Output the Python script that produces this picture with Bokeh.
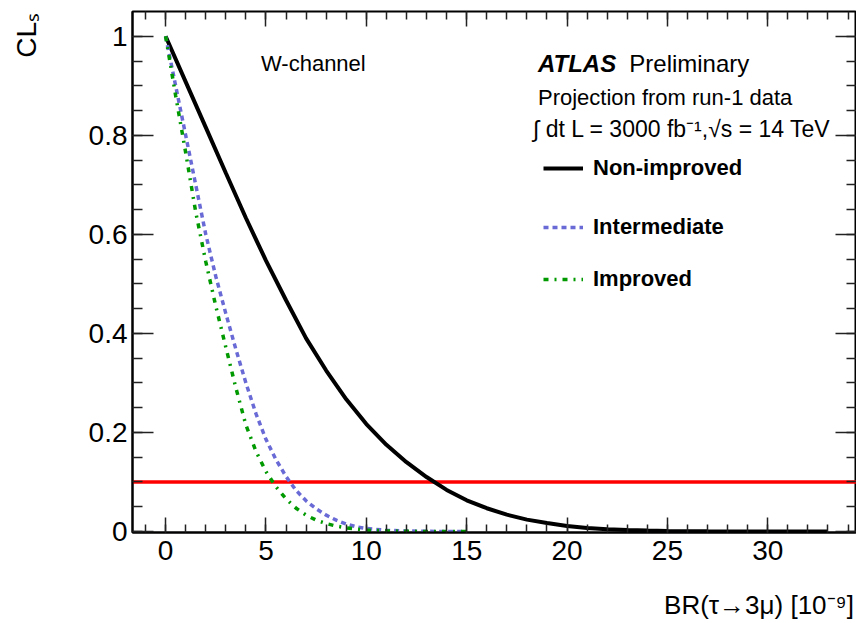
import math
from bokeh.plotting import figure
from bokeh.models import (Range1d, FixedTicker, LinearAxis, Label, Span, Legend,
                          LegendItem, CustomJSTickFormatter, Title)
from bokeh.embed import file_html
from bokeh.resources import INLINE

# ---------------- data ----------------
BLACK_X = [0, 1, 2, 3, 4, 5, 6, 7, 8, 9, 10, 11, 12, 13, 14, 15, 16, 17, 18, 19, 20,
           21, 22, 23, 24, 25, 26, 27, 28, 29, 30, 31, 32, 33]
BLACK_Y = [1.000, 0.908, 0.816, 0.724, 0.633, 0.547, 0.467, 0.390, 0.325, 0.267, 0.217,
           0.175, 0.140, 0.110, 0.084, 0.063, 0.047, 0.034, 0.024, 0.017, 0.011,
           0.0072, 0.0046, 0.0029, 0.0018, 0.0011, 0.0007, 0.0004, 0.00025, 0.00015,
           0.0001, 0.00006, 0.00003, 0.0]

BLUE_X = [0, 0.5, 1, 1.5, 2, 2.5, 3, 3.5, 4, 4.5, 5, 5.5, 6, 6.5, 7, 7.5, 8, 8.5, 9, 9.5,
          10, 11, 12, 13, 14, 15]
BLUE_Y = [1.0, 0.9, 0.8, 0.7, 0.6, 0.515, 0.44, 0.368, 0.3, 0.238, 0.186, 0.145, 0.111,
          0.083, 0.062, 0.046, 0.033, 0.023, 0.015, 0.0095, 0.006, 0.0025, 0.001, 0.0004,
          0.0001, 0.0]

GREEN_X = [0, 0.5, 1, 1.5, 2, 2.5, 3, 3.5, 4, 4.5, 5, 5.5, 6, 6.5, 7, 7.5, 8, 8.5, 9, 9.5,
           10, 11, 12, 13, 14, 15]
GREEN_Y = [1.0, 0.88, 0.765, 0.645, 0.545, 0.455, 0.372, 0.29, 0.215, 0.162, 0.121, 0.09,
           0.066, 0.047, 0.033, 0.023, 0.016, 0.011, 0.0075, 0.005, 0.003, 0.0012, 0.0004,
           0.0001, 0.0, 0.0]

THRESHOLD = 0.1

SERIES_NAMES = ["Non-improved", "Intermediate", "Improved"]
X_TICKS = [0, 5, 10, 15, 20, 25, 30]
Y_TICKS = [0, 0.2, 0.4, 0.6, 0.8, 1.0]
X_TITLE = "BR(\u03c4\u21923\u03bc) [10\u207b\u2079]"
Y_TITLE = "CL\u209b"

# ---------------- layout ----------------
X0, X1 = -1.65, 34.42
Y0, Y1 = -0.002, 1.05
FL, FR, FT, FB = 132, 856, 11, 532
FONT = "Liberation Sans"
# the axis label is centred on the axis end, so a blank tail about as wide as the
# visible title puts the visible text's end on the axis end (right / top aligned)
X_PAD = "\u2003" * 7 + "\u2002"
Y_PAD = "\u2003\u2002\u2009"


def dx(px):
    return X0 + (px - FL) * 20.0 / 400.0


def dy(py):
    return Y1 - (py - FT) * (Y1 - Y0) / (FB - FT)


p = figure(width=856, height=623, output_backend="svg", toolbar_location=None,
           x_range=Range1d(X0, X1), y_range=Range1d(Y0, Y1),
           x_axis_type=None, y_axis_type=None,
           min_border_left=FL, min_border_right=0, min_border_top=FT,
           min_border_bottom=623 - FB)
p.outline_line_color = "black"
p.outline_line_width = 2
p.background_fill_color = "white"
p.border_fill_color = "white"

x_minor = [float(v) for v in range(-1, 35)]
y_minor = [round(0.05 * i, 2) for i in range(0, 21)]


def make_axis(ticks, minor, major_in, minor_in, show_labels):
    ax = LinearAxis(ticker=FixedTicker(ticks=ticks, minor_ticks=minor),
                    axis_line_color="black", axis_line_width=2,
                    major_tick_in=major_in, major_tick_out=0,
                    minor_tick_in=minor_in, minor_tick_out=0,
                    major_tick_line_width=1.5, minor_tick_line_width=1.5,
                    major_tick_line_color="#222222", minor_tick_line_color="#222222",
                    major_label_text_font=FONT,
                    major_label_text_color="black")
    if show_labels:
        ax.major_label_text_font_size = "28px"
    else:
        ax.formatter = CustomJSTickFormatter(code="return ''")
        ax.major_label_text_font_size = "0px"
        ax.major_label_standoff = 0
        ax.axis_line_color = None
    return ax


xb = make_axis(X_TICKS, x_minor, 15, 8, True)
xb.major_label_standoff = 8
yl = make_axis(Y_TICKS, y_minor, 21, 10, True)
yl.major_label_standoff = 5
yl.major_label_overrides = {0: "0", 1: "1"}
xt = make_axis(X_TICKS, x_minor, 15, 8, False)
yr = make_axis(Y_TICKS, y_minor, 21, 10, False)

HAS_ALIGN = "axis_label_align" in LinearAxis.properties()
if HAS_ALIGN:
    xb.axis_label = X_TITLE + X_PAD
    xb.axis_label_align = "end"
    xb.axis_label_standoff = 27
    xb.axis_label_text_font = FONT
    xb.axis_label_text_font_size = "26px"
    xb.axis_label_text_font_style = "normal"
    xb.axis_label_text_color = "black"
    yl.axis_label = Y_TITLE + Y_PAD
    yl.axis_label_align = "end"
    yl.axis_label_standoff = 44
    yl.axis_label_text_font = FONT
    yl.axis_label_text_font_size = "28px"
    yl.axis_label_text_font_style = "normal"
    yl.axis_label_text_color = "black"

p.add_layout(xb, "below")
p.add_layout(yl, "left")
p.add_layout(xt, "above")
p.add_layout(yr, "right")

if not HAS_ALIGN:
    t_x = Title(text=X_TITLE, align="right", text_font=FONT, text_font_size="26px",
                text_font_style="normal", text_color="black", offset=4, standoff=26)
    t_y = Title(text=Y_TITLE, align="right", text_font=FONT, text_font_size="28px",
                text_font_style="normal", text_color="black", offset=0, standoff=50)
    p.add_layout(t_x, "below")
    p.add_layout(t_y, "left")

# threshold line
p.add_layout(Span(location=THRESHOLD, dimension="width", line_color="#ff0000",
                  line_width=3.5, level="underlay"))

r_black = p.line(BLACK_X, BLACK_Y, line_color="black", line_width=4)
r_blue = p.line(BLUE_X, BLUE_Y, line_color="#6a6ad6", line_width=3.5, line_dash="5 4")
r_green = p.line(GREEN_X, GREEN_Y, line_color="#009900", line_width=3.5,
                 line_dash="5 6 2 6")

for name, rend, py in zip(SERIES_NAMES, [r_black, r_blue, r_green], [167, 226, 278]):
    leg = Legend(items=[LegendItem(label=name, renderers=[rend])],
                 location=(543 - FL, FB - py - 14), orientation="vertical",
                 padding=0, margin=0, spacing=0,
                 border_line_alpha=0, background_fill_alpha=0,
                 glyph_width=40, glyph_height=20, label_standoff=10,
                 label_text_font=FONT, label_text_font_size="22px",
                 label_text_font_style="bold", label_text_color="black")
    p.add_layout(leg)


def add_text(px, py, text, size, style="normal", align="left"):
    p.add_layout(Label(x=dx(px), y=dy(py), text=text, text_font=FONT,
                       text_font_size=size, text_font_style=style,
                       text_align=align, text_baseline="alphabetic",
                       text_color="black"))


add_text(260, 63, "W-channel", "22px")
add_text(536, 63, "ATLAS", "24px", "bold italic")
add_text(627, 63, "Preliminary", "24px")
add_text(536, 97, "Projection from run-1 data", "22px")
add_text(531, 128, "\u222b dt L = 3000 fb\u207b\u00b9,\u221as = 14 TeV", "23px")

open("out.html", "w").write(file_html(p, INLINE))
